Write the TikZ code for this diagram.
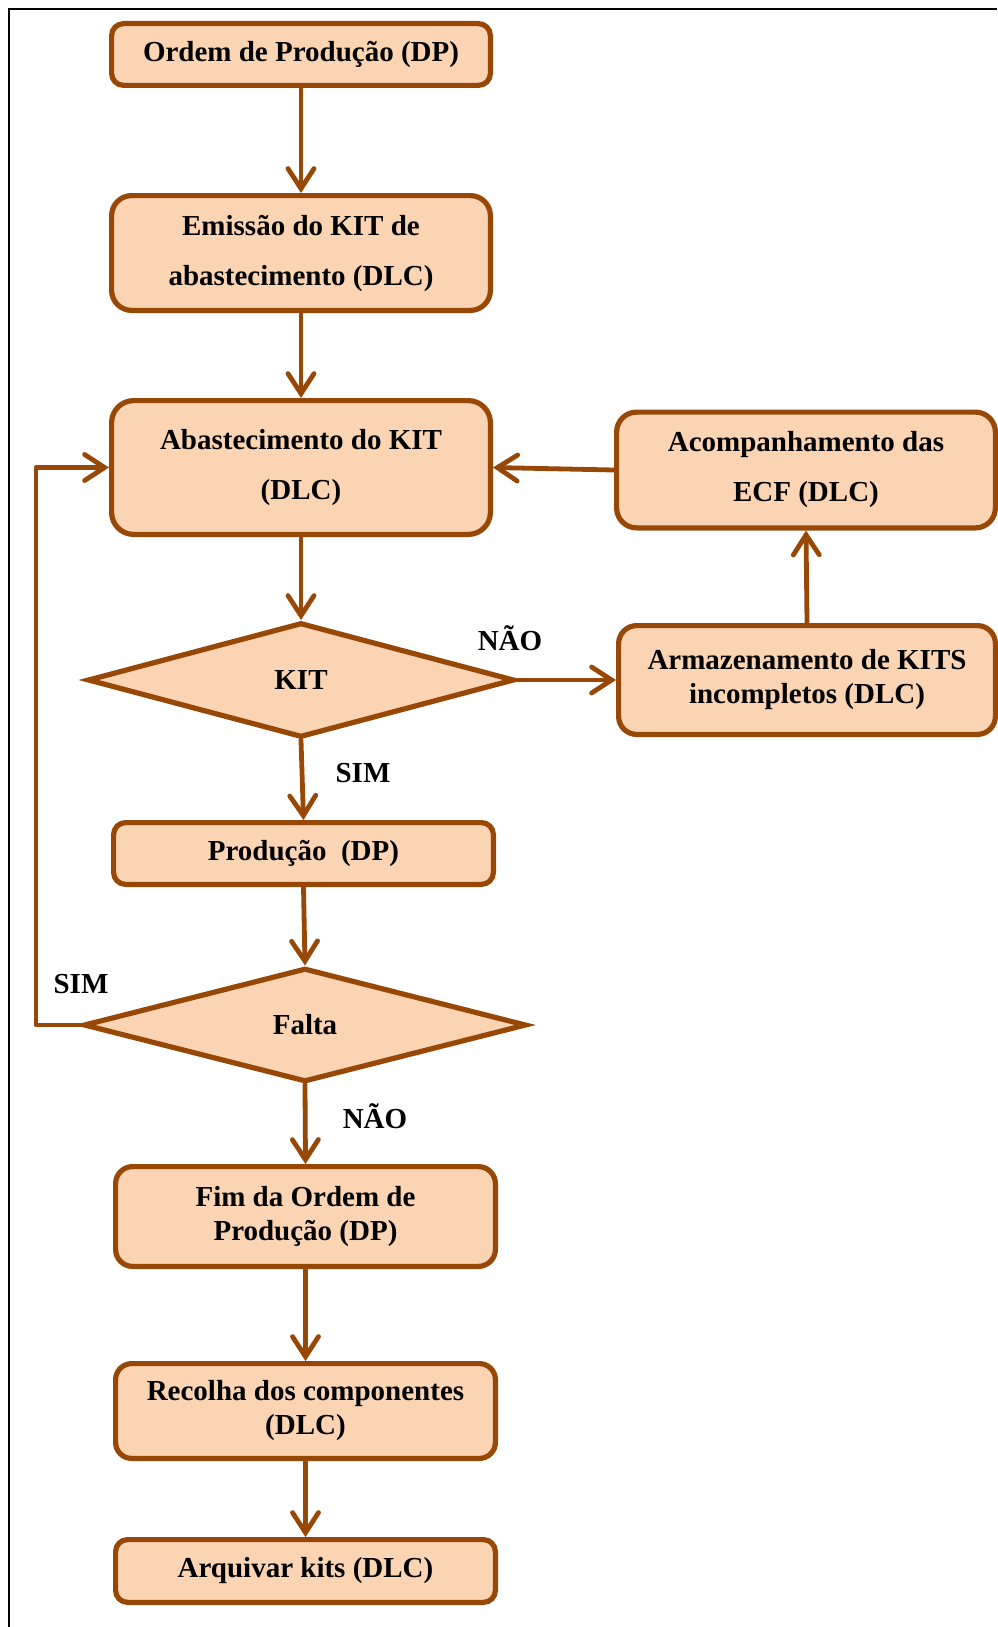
\documentclass[tikz,border=0pt]{standalone}
\usepackage{fontspec}
\setmainfont{Liberation Serif}
\usetikzlibrary{shapes.geometric, arrows.meta}
\definecolor{kitfill}{HTML}{FBD4B4}
\definecolor{kitdraw}{HTML}{984806}
\tikzset{procbox/.style = {draw = kitdraw, fill = kitfill, line width = 2.6pt,
    rounded corners = 6pt, align = center, inner sep = 0pt,
    font = \bfseries\fontsize{14.5}{17}\selectfont
    }
}
\tikzset{decisionbox/.style = {diamond, draw = kitdraw, fill = kitfill, line width = 2.6pt,
    aspect = 3.6, inner sep = 0pt,
    font = \bfseries\fontsize{14.5}{17}\selectfont
    }
}
\def\widespacing{\fontsize{14.5}{25}\selectfont}

\begin{document}
\begin{tikzpicture}[x = 0.5pt, y = -0.5pt]

    \useasboundingbox (0,0) rectangle (997,1627);

    \tikzset{flowarrow/.style = {draw = kitdraw, line width = 2.4pt, line cap = round, line join = round,
        -{Straight Barb[length = 10pt, width = 13pt, line cap = round]}}}
    \tikzset{flowlabel/.style = {font = \bfseries\fontsize{14.5}{17}\selectfont, inner sep = 0pt}}

    % frame
    \draw[line width = 1.2pt] (9,1627) -- (9,9) -- (997,9);

    \node (ordem) [procbox, minimum width = 189.4pt, minimum height = 30.9pt] at (301,54.5) {Ordem de Produção (DP)};
    \node (emissao) [procbox, rounded corners = 10pt, minimum width = 189.4pt, minimum height = 57.4pt,
        font = \bfseries\widespacing] at (301,253) {Emissão do KIT de\\abastecimento (DLC)};
    \node (abast) [procbox, rounded corners = 11pt, minimum width = 189.4pt, minimum height = 66.9pt,
        font = \bfseries\widespacing] at (301,467.5) {Abastecimento do KIT\\(DLC)};
    \node (ecf) [procbox, rounded corners = 10pt, minimum width = 189.4pt, minimum height = 57.9pt,
        font = \bfseries\widespacing] at (806,470) {Acompanhamento das\\ECF (DLC)};
    \node (armaz) [procbox, rounded corners = 9pt, minimum width = 188.4pt, minimum height = 54.4pt] at (807,680) {Armazenamento de KITS\\incompletos (DLC)};
    \node (kit) [decisionbox, minimum width = 213.4pt, minimum height = 57.4pt] at (301,680) {KIT};
    \node (prod) [procbox, minimum width = 189.9pt, minimum height = 30.9pt] at (303.5,853.5) {Produção\enspace(DP)};
    \node (falta) [decisionbox, minimum width = 221.4pt, minimum height = 56.9pt] at (305,1025) {Falta};
    \node (fim) [procbox, rounded corners = 8.5pt, minimum width = 189.9pt, minimum height = 49.9pt] at (305.5,1216.5) {Fim da Ordem de\\Produção (DP)};
    \node (recolha) [procbox, rounded corners = 8pt, minimum width = 189.9pt, minimum height = 47.4pt] at (305.5,1411) {Recolha dos componentes\\(DLC)};
    \node (arquivar) [procbox, minimum width = 189.9pt, minimum height = 31.4pt] at (305.5,1571) {Arquivar kits (DLC)};

    \coordinate (loopcorner) at (36,1025);

    \draw[flowarrow] (ordem) -- (emissao);
    \draw[flowarrow] (emissao) -- (abast);
    \draw[flowarrow] (abast) -- (kit);
    \draw[flowarrow] (kit.south) -- (prod.north);
    \draw[flowarrow] (kit.east) -- (armaz.west);
    \draw[flowarrow] (armaz.north) -- (ecf.south);
    \draw[flowarrow] (ecf.west) -- (abast.east);
    \draw[flowarrow] (prod.south) -- (falta.north);
    \draw[flowarrow] (falta.west) -- (loopcorner) |- (abast.west);
    \draw[flowarrow] (falta.south) -- (fim.north);
    \draw[flowarrow] (fim) -- (recolha);
    \draw[flowarrow] (recolha) -- (arquivar);

    \node (kitNo) [flowlabel] at (510,638) {NÃO};
    \node (kitYes) [flowlabel] at (363,773) {SIM};
    \node (faltaYes) [flowlabel] at (81,984) {SIM};
    \node (faltaNo) [flowlabel] at (375,1116) {NÃO};

\end{tikzpicture}
\end{document}
